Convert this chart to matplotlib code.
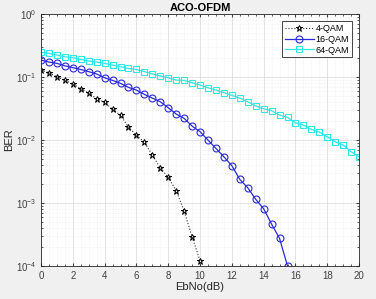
import numpy as np
import matplotlib.pyplot as plt
from matplotlib.ticker import MultipleLocator

plt.rcParams['font.family'] = ['Liberation Sans', 'DejaVu Sans']

ebno = np.arange(0, 20.5, 0.5)

ber_4qam = [0.129, 0.117, 0.101, 0.0895, 0.0774, 0.0653, 0.0557, 0.0453, 0.0397,
            0.0307, 0.0247, 0.0161, 0.0119, 0.0093, 0.00578, 0.00363, 0.00256,
            0.00158, 0.000746, 0.000292, 0.000122]
ber_16qam = [0.186, 0.173, 0.165, 0.151, 0.141, 0.132, 0.122, 0.112, 0.0975,
             0.0885, 0.0794, 0.0686, 0.0622, 0.0531, 0.0464, 0.0406, 0.0326,
             0.0259, 0.0221, 0.0167, 0.0136, 0.0100, 0.00738, 0.00543, 0.00392,
             0.00238, 0.00175, 0.00115, 0.000813, 0.000464, 0.000275, 0.0001]
ber_64qam = [0.247, 0.238, 0.224, 0.210, 0.203, 0.191, 0.180, 0.173, 0.165,
             0.155, 0.146, 0.137, 0.132, 0.122, 0.112, 0.104, 0.0975, 0.0895,
             0.0885, 0.0812, 0.0746, 0.0677, 0.0622, 0.0564, 0.0513, 0.0464,
             0.0406, 0.0347, 0.0314, 0.0292, 0.0249, 0.0229, 0.0188, 0.0173,
             0.0148, 0.0134, 0.0113, 0.0094, 0.00834, 0.00653, 0.00543]

fig = plt.figure(figsize=(3.76, 2.99), dpi=100, facecolor='#f0f0f0')
ax = fig.add_axes([0.109, 0.110, 0.846, 0.843])

ax.semilogy(ebno[:len(ber_4qam)], ber_4qam, ':*', color='#333333', lw=0.8,
            ms=5, mfc='none', mec='black', mew=0.7, label='4-QAM')
ax.semilogy(ebno[:len(ber_16qam)], ber_16qam, '-o', color='#2a2ad8', lw=0.9,
            ms=5, mfc='none', mew=0.8, label='16-QAM')
ax.semilogy(ebno[:len(ber_64qam)], ber_64qam, '-s', color='#33e6e6', lw=0.9,
            ms=4, mfc='none', mew=0.8, label='64-QAM')

ax.set_xlim(0, 20)
ax.set_ylim(1e-4, 1)
ax.set_xticks(range(0, 21, 2))
ax.xaxis.set_minor_locator(MultipleLocator(0.5))
ax.set_axisbelow(True)
ax.grid(True, which='major', color='#d8d8d8', lw=0.5)
ax.grid(True, which='minor', color='#e4e4e4', lw=0.4, ls=':')
ax.tick_params(which='both', direction='in', top=True, right=True,
               labelsize=7, colors='#404040', length=2.5)
ax.tick_params(which='minor', length=1.2)
for s in ax.spines.values():
    s.set_color('#262626')
    s.set_linewidth(0.6)

ax.set_title('ACO-OFDM', fontsize=8, fontweight='bold', pad=2)
ax.set_xlabel('EbNo(dB)', fontsize=8, labelpad=1, color='#262626')
ax.set_ylabel('BER', fontsize=8, labelpad=1, color='#262626')

leg = ax.legend(loc='upper right', fontsize=6.5, fancybox=False,
                edgecolor='#262626', framealpha=1, handlelength=3.2,
                borderpad=0.3, labelspacing=0.2, handletextpad=0.2,
                borderaxespad=0.8)
leg.get_frame().set_linewidth(0.6)

fig.savefig('out.png', dpi=100, facecolor=fig.get_facecolor())
